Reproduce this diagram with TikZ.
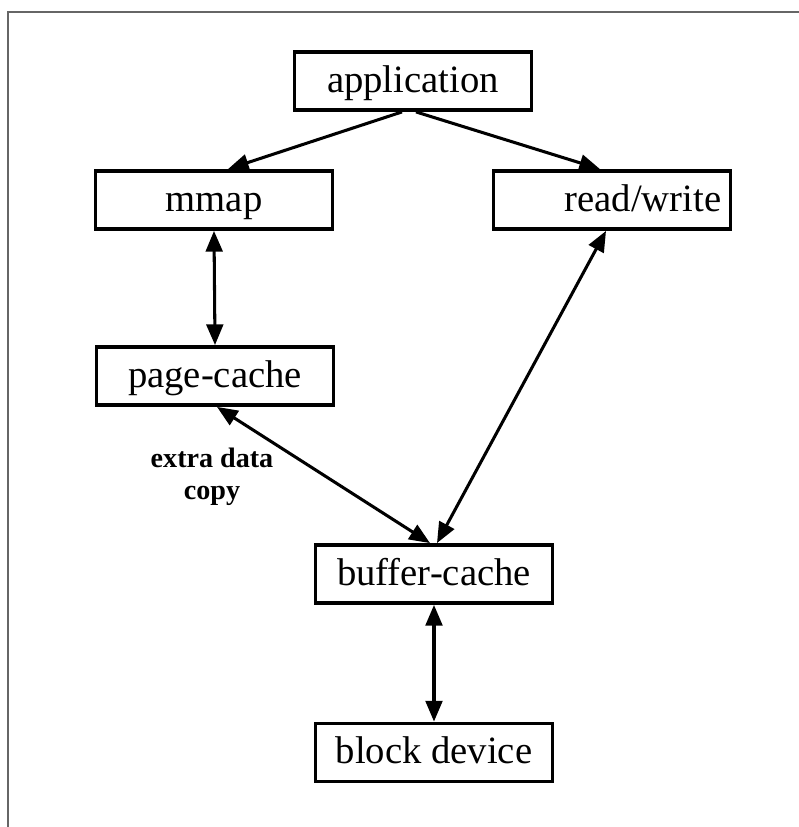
\documentclass[tikz,border=0pt]{standalone}
\usepackage{fontspec}
\setmainfont{Liberation Serif}
\usetikzlibrary{arrows.meta}

\begin{document}
\begin{tikzpicture}[
  blk/.style={draw,line width=3pt,minimum width=7.1cm,minimum height=1.75cm,inner sep=0pt,text height=23pt,text depth=4pt,font=\fontsize{33}{40}\selectfont},
  lnk/.style={line width=2.6pt,{Triangle[length=0.62cm,width=0.5cm]}-{Triangle[length=0.62cm,width=0.5cm]}},
  one/.style={line width=2.6pt,-{Triangle[length=0.62cm,width=0.5cm]}}]
 \useasboundingbox (0,0) rectangle (23.97,24.81);
 \draw[gray!80!black,line width=1.4pt] (0.24,0)--(0.24,24.45)--(23.97,24.45);
 \node[blk] (app) at (12.39,22.38) {application};
 \node[blk] (mmap) at (6.42,18.81) {mmap};
 \node[blk,text width=6.55cm,align=right] (rw) at (18.36,18.81) {read/write};
 \node[blk] (page) at (6.45,13.53) {page-cache};
 \node[blk] (buf) at (13.02,7.59) {buffer-cache};
 \node[blk] (dev) at (13.02,2.235) {block device};
 \node[font=\bfseries\fontsize{24}{27}\selectfont,align=center] (extra) at (6.36,10.5) {extra data\\copy};
 \draw[one] ([xshift=-0.33cm]app.south)--([xshift=0.42cm]mmap.north);
 \draw[one] ([xshift=0.09cm]app.south)--([xshift=-0.36cm]rw.north);
 \draw[lnk] (mmap.south)--(page.north);
 \draw[lnk] ([xshift=0.06cm]page.south)--([xshift=-0.12cm]buf.north);
 \draw[lnk] ([xshift=-0.18cm]rw.south)--([xshift=0.09cm]buf.north);
 \draw[lnk] (buf.south)--(dev.north);
\end{tikzpicture}
\end{document}
